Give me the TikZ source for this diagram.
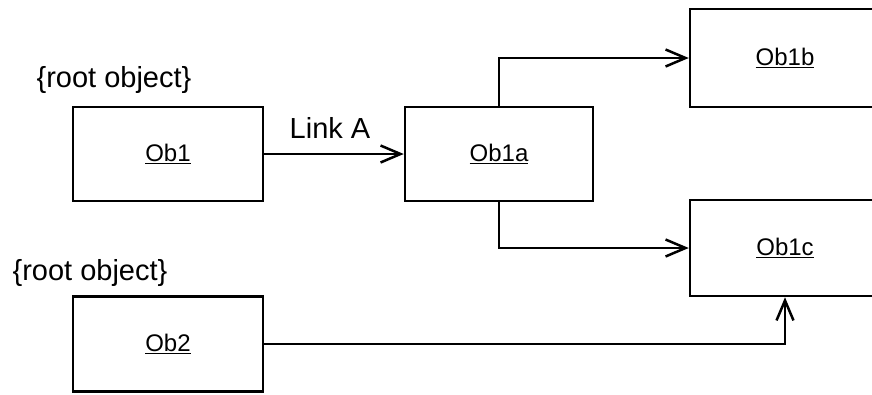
\documentclass[tikz,border=0pt]{standalone}
\usepackage{fontspec}
\setmainfont{Liberation Sans}
\usetikzlibrary{arrows.meta}

\begin{document}
\begin{tikzpicture}[x=1pt, y=-1pt, >={Straight Barb[length=20pt,width=17pt]},
  obj/.style={draw, line width=2.5pt, minimum width=190pt, minimum height=94pt,
    font=\fontsize{24}{28}\selectfont},
  link/.style={->, line width=2.5pt},
  rootlabel/.style={font=\fontsize{29}{33}\selectfont}]
  \useasboundingbox (0,0) rectangle (872,394);

  \node[obj] (ob1) at (168,154) {\underline{Ob1}};
  \node[obj, minimum width=188pt] (ob1a) at (499,154) {\underline{Ob1a}};
  \node[obj, minimum height=98pt] (ob1b) at (785,58) {\underline{Ob1b}};
  \node[obj, minimum height=96pt] (ob1c) at (785,248) {\underline{Ob1c}};
  \node[obj, minimum height=95pt] (ob2) at (168,344) {\underline{Ob2}};

  \node[rootlabel] (root1) at (114,80) {\{root object\}};
  \node[rootlabel] (root2) at (90,273) {\{root object\}};

  \draw[link] (ob1) -- node[rootlabel, above, yshift=11pt, xshift=-4pt] {Link A} (ob1a);
  \draw[link] (ob1a.north) |- (ob1b);
  \draw[link] (ob1a.south) |- (ob1c);
  \draw[link] (ob2) -| (ob1c.south);

\end{tikzpicture}
\end{document}
